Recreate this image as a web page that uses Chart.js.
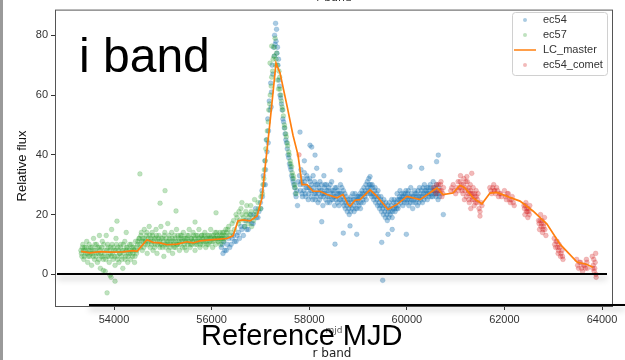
<!DOCTYPE html>
<html>
<head>
<meta charset="utf-8">
<script src="https://cdn.jsdelivr.net/npm/chart.js@4/dist/chart.umd.min.js"></script>
<style>
html, body { margin: 0; padding: 0; background: #fff; }
#graph { display: block; }
</style>
</head>
<body>
<canvas id="graph" width="625" height="360"></canvas>
<script>
// ticks
var mjdTicks = [54000, 56000, 58000, 60000, 62000, 64000];
var fluxTicks = [0, 20, 40, 60, 80];

// LC_master (ligne orange)
var lcMjd = [53324, 53508, 53713, 53918, 54184, 54389, 54471, 54676, 54799, 54943, 55086, 55291, 55496, 55619, 55762,
    56029, 56315, 56438, 56541, 56643, 56787, 56930, 57033, 57094, 57196, 57319, 57401, 57545, 57668, 57770, 57852,
    57955, 58078, 58221, 58365, 58570, 58692, 58795, 58836, 58938, 59041, 59246, 59389, 59614, 59799, 60004, 60270,
    60618, 60741, 60946, 61090, 61192, 61356, 61540, 61704, 61848, 62053, 62319, 62585, 62872, 63139, 63487, 63692, 63815];
var lcFlux = [7.7, 7.2, 7.6, 7.4, 7.5, 7.9, 7.7, 11.6, 10.7, 10.5, 9.9, 10.1, 10.9, 10.5, 11.2,
    11.6, 12.0, 12.9, 17.9, 18.2, 17.9, 19.5, 25.6, 35.5, 50.9, 70.7, 67.4, 56.4, 46.5, 39.9, 30.0,
    30.0, 27.8, 27.8, 26.7, 25.6, 26.7, 23.4, 22.8, 24.8, 25.0, 28.3, 26.1, 21.7, 23.4, 26.1, 25.0,
    28.9, 26.7, 27.2, 29.8, 28.9, 25.6, 23.6, 27.2, 27.4, 26.1, 24.5, 21.2, 16.8, 10.1, 4.1, 3.3, 2.4];

// ec57 (vert) [mjd, flux]
var ec57 = [
    [53320, 8], [53340, 6], [53360, 10], [53380, 5], [53400, 9], [53420, 7], [53440, 11], [53460, 4], [53480, 8], [53500, 6],
    [53520, 9], [53540, 3], [53560, 7], [53580, 12], [53600, 5], [53620, 8], [53640, 10], [53660, 4], [53680, 7], [53700, 9],
    [53720, 2], [53740, 6], [53760, 11], [53780, 5], [53800, 8], [53820, 1], [53840, 13], [53860, 6], [53880, 9], [53900, 4],
    [53920, 7], [53940, -1], [53960, 10], [53980, 5], [54000, 8], [54020, 3], [54040, 12], [54060, 6], [54080, 9], [54100, 4],
    [54120, 7], [54140, 10], [54160, 5], [54180, 2], [54200, 8], [54220, 11], [54240, 6], [54260, 9], [54280, 4], [54300, 7],
    [54320, 10], [54340, 5], [54360, 8], [54380, 6], [54400, 9], [54420, 4], [54440, 11], [54460, 7], [54480, 10],
    [53857, -6.2], [54020, -2.3], [53918, -0.3], [53780, 1.3], [54060, 17.8], [54530, 33.6], [55045, 28], [54943, 23.8],
    [55270, 21.2], [56090, 20.6], [55660, 17.5], [53700, 13], [53950, 15], [54250, 14],
    [54520, 12], [54540, 9], [54560, 14], [54580, 8], [54600, 11], [54620, 15], [54640, 10], [54660, 13], [54680, 7], [54700, 12],
    [54720, 16], [54740, 9], [54760, 11], [54780, 14], [54800, 8], [54820, 12], [54840, 10], [54860, 15], [54880, 7], [54900, 11],
    [54920, 13], [54940, 9], [54960, 16], [54980, 10], [55000, 12], [55020, 6], [55040, 14], [55060, 9], [55080, 11], [55100, 17],
    [55120, 8], [55140, 12], [55160, 10], [55180, 14], [55200, 7], [55220, 11], [55240, 13], [55260, 9], [55280, 15], [55300, 10],
    [55320, 12], [55340, 8], [55360, 13], [55380, 11], [55400, 9], [55420, 14], [55440, 10], [55460, 12], [55480, 8], [55500, 13],
    [55520, 11], [55540, 15], [55560, 9], [55580, 12], [55600, 10], [55620, 14], [55640, 11], [55660, 8], [55680, 13], [55700, 10],
    [55720, 12], [55740, 15], [55760, 9], [55780, 11], [55800, 13], [55820, 10], [55840, 12], [55860, 14], [55880, 9], [55900, 11],
    [55920, 13], [55940, 10], [55960, 12], [55980, 15], [56000, 11], [56020, 9], [56040, 13], [56060, 12], [56080, 10], [56100, 14],
    [56120, 12], [56140, 11], [56160, 13], [56180, 10], [56200, 12], [56220, 14], [56240, 11], [56260, 13],
    [56300, 13], [56350, 16], [56400, 14], [56450, 18], [56500, 20], [56550, 17], [56600, 22], [56650, 19], [56700, 21], [56750, 17],
    [56800, 23], [56850, 19], [56900, 21], [56950, 24], [57000, 22], [57050, 30], [57080, 35], [57110, 42], [57140, 48], [57170, 55],
    [57200, 60], [57230, 66], [57260, 72], [57290, 76], [57310, 70], [57330, 74], [57350, 65], [57380, 68], [57400, 62], [57430, 58],
    [57460, 55], [57490, 50], [57520, 47], [57550, 44], [57580, 41], [57610, 38], [57640, 36], [57670, 33], [57700, 30], [57730, 27],
    [57196, 70.7], [57230, 76.4], [56560, 21], [56620, 24], [56680, 16], [56720, 23], [56780, 20], [56820, 16], [56880, 25]
];
var ec57More = [
    [53330, 7], [53350, 9], [53370, 8], [53390, 6], [53410, 8], [53430, 9], [53450, 7], [53470, 6], [53490, 10], [53510, 8],
    [53530, 7], [53550, 9], [53570, 6], [53590, 8], [53610, 10], [53630, 6], [53650, 7], [53670, 9], [53690, 5], [53710, 8],
    [53730, 7], [53750, 9], [53770, 6], [53790, 10], [53810, 7], [53830, 5], [53850, 8], [53870, 10], [53890, 6], [53910, 8],
    [53930, 9], [53950, 6], [53970, 7], [53990, 9], [54010, 6], [54030, 8], [54050, 10], [54070, 5], [54090, 8], [54110, 7],
    [54130, 9], [54150, 6], [54170, 8], [54190, 10], [54210, 7], [54230, 5], [54250, 8], [54270, 9], [54290, 6], [54310, 8],
    [54330, 7], [54350, 10], [54370, 9], [54390, 7], [54410, 8], [54430, 6], [54450, 9], [54470, 8], [54490, 11], [54510, 12],
    [54530, 10], [54550, 13], [54570, 11], [54590, 12], [54610, 9], [54630, 12], [54650, 11], [54670, 14], [54690, 10], [54710, 11],
    [54730, 13], [54750, 12], [54770, 10], [54790, 13], [54810, 11], [54830, 9], [54850, 12], [54870, 13], [54890, 10], [54910, 12],
    [54930, 11], [54950, 10], [54970, 12], [54990, 9], [55010, 11], [55030, 13], [55050, 10], [55070, 12], [55090, 10], [55110, 11],
    [55130, 13], [55150, 9], [55170, 11], [55190, 12], [55210, 10], [55230, 9], [55250, 12], [55270, 11], [55290, 10], [55310, 13],
    [55330, 11], [55350, 10], [55370, 12], [55390, 13], [55410, 11], [55430, 12], [55450, 9], [55470, 11], [55490, 12], [55510, 10],
    [55530, 13], [55550, 11], [55570, 10], [55590, 12], [55610, 11], [55630, 13], [55650, 12], [55670, 10], [55690, 11], [55710, 13],
    [55730, 11], [55750, 12], [55770, 10], [55790, 13], [55810, 12], [55830, 11], [55850, 13], [55870, 11], [55890, 12], [55910, 10],
    [55930, 12], [55950, 13], [55970, 11], [55990, 12], [56010, 13], [56030, 11], [56050, 12], [56070, 14], [56090, 12], [56110, 13],
    [56130, 11], [56150, 12], [56170, 14], [56190, 12], [56210, 13], [56230, 12], [56250, 14], [56270, 12], [56290, 15], [56310, 14],
    [56330, 15], [56370, 13], [56420, 17], [56470, 15], [56520, 19], [56570, 18], [56620, 20], [56670, 18], [56710, 20], [56760, 19],
    [56810, 21], [56860, 18], [56910, 20], [56960, 22], [57010, 26], [57040, 27], [57070, 32], [57100, 38], [57130, 45], [57160, 51],
    [57190, 57], [57220, 63], [57250, 68], [57280, 73], [57300, 79], [57320, 72], [57345, 70], [57370, 62], [57395, 66], [57420, 60],
    [57445, 56], [57470, 53], [57500, 49], [57530, 46], [57560, 43], [57590, 40], [57620, 37], [57650, 34], [57680, 32], [57710, 29]
];

// ec54 (bleu)
var ec54 = [
    [56200, 9], [56233, 7], [56250, 11], [56300, 8], [56350, 12], [56400, 10], [56450, 13], [56500, 11], [56550, 14], [56600, 16],
    [56650, 13], [56700, 18], [56750, 15], [56800, 20], [56850, 17], [56900, 22], [56950, 19], [57000, 24], [57030, 28], [57060, 33],
    [57090, 38], [57120, 45], [57150, 52], [57180, 58], [57210, 64], [57240, 70], [57270, 76], [57290, 80], [57310, 84], [57320, 78],
    [57330, 82], [57340, 74], [57360, 70], [57380, 65], [57400, 60], [57430, 57], [57460, 52], [57490, 49], [57520, 45], [57550, 42],
    [57580, 39], [57610, 36], [57640, 33], [57670, 31], [57700, 29], [57730, 26], [57760, 23], [57100, 30], [57160, 44], [57220, 56],
    [57800, 33], [57820, 28], [57840, 31], [57860, 26], [57880, 30], [57900, 34], [57920, 27], [57940, 29], [57960, 32], [57980, 25],
    [58000, 29], [58020, 31], [58040, 26], [58060, 28], [58080, 33], [58100, 27], [58120, 25], [58140, 30], [58160, 28], [58180, 24],
    [58200, 29], [58220, 31], [58240, 26], [58260, 28], [58280, 23], [58300, 27], [58320, 30], [58340, 25], [58360, 28], [58380, 26],
    [58400, 29], [58420, 24], [58440, 27], [58460, 31], [58480, 25], [58500, 28], [58520, 23], [58540, 26], [58560, 29], [58580, 24],
    [58600, 27], [58620, 25], [58640, 30], [58660, 27], [58680, 24], [58700, 28], [58720, 25], [58740, 22], [58760, 26], [58780, 21],
    [58800, 24], [58820, 20], [58840, 23], [58860, 26], [58880, 22], [58900, 25], [58920, 21], [58940, 27], [58960, 24], [58980, 22],
    [59000, 26], [59020, 23], [59040, 27], [59060, 24], [59080, 28], [59100, 25], [59120, 29], [59140, 26], [59160, 30], [59180, 27],
    [59200, 29], [59220, 32], [59240, 27], [59260, 30], [59280, 26], [59300, 29], [59320, 25], [59340, 28], [59360, 24], [59380, 27],
    [59400, 23], [59420, 26], [59440, 22], [59460, 25], [59480, 21], [59500, 24], [59520, 20], [59540, 23], [59560, 19], [59580, 22],
    [59600, 18], [59620, 21], [59640, 24], [59660, 20], [59680, 23], [59700, 19], [59720, 22], [59740, 25], [59760, 21], [59780, 24],
    [59800, 27], [59820, 22], [59840, 25], [59860, 28], [59880, 24], [59900, 26], [59920, 23], [59940, 27], [59960, 25], [59980, 28],
    [60000, 24], [60020, 27], [60040, 23], [60060, 26], [60080, 29], [60100, 25], [60120, 22], [60140, 26], [60160, 28], [60180, 24],
    [60200, 27], [60220, 23], [60240, 26], [60260, 29], [60280, 25], [60300, 28], [60320, 24], [60340, 27], [60360, 30], [60380, 26],
    [60400, 28], [60420, 25], [60440, 29], [60460, 27], [60480, 30], [60500, 26], [60520, 28], [60540, 31], [60560, 27], [60580, 29],
    [60600, 26], [60620, 28], [60640, 25], [60660, 27],
    [58256, 17.6], [58698, 13.8], [58836, 16.2], [58973, 13.4], [58528, 10.1], [59485, 10.7], [59614, 13.4], [59990, 13.4],
    [59505, -2], [60748, 20], [57811, 47.6], [58051, 42.6], [58119, 39.9], [58631, 34.9], [59246, 32.7], [60065, 36],
    [60305, 35.5], [60645, 39.9], [60610, 37.7], [58016, 43.2], [58153, 35.5], [57900, 38], [58300, 33], [59700, 15]
];
var ec54More = [
    [56220, 10], [56270, 8], [56320, 10], [56370, 9], [56420, 12], [56470, 11], [56520, 13], [56570, 12], [56620, 15], [56670, 16],
    [56720, 15], [56770, 18], [56820, 17], [56870, 20], [56920, 19], [56970, 21], [57010, 22], [57040, 26], [57070, 30], [57105, 35],
    [57135, 41], [57165, 48], [57195, 55], [57225, 61], [57255, 67], [57285, 73], [57300, 77], [57350, 76], [57370, 72], [57390, 63],
    [57415, 59], [57445, 55], [57475, 51], [57505, 47], [57535, 44], [57565, 40], [57595, 37], [57625, 35], [57655, 32], [57685, 30],
    [57715, 27], [57745, 28], [57775, 31],
    [57810, 30], [57830, 35], [57850, 27], [57870, 32], [57890, 28], [57910, 31], [57930, 26], [57950, 33], [57970, 29], [57990, 27],
    [58010, 32], [58030, 28], [58050, 30], [58070, 25], [58090, 29], [58110, 31], [58130, 27], [58150, 26], [58170, 30], [58190, 27],
    [58210, 25], [58230, 28], [58250, 30], [58270, 27], [58290, 26], [58310, 29], [58330, 27], [58350, 30], [58370, 24], [58390, 28],
    [58410, 26], [58430, 30], [58450, 25], [58470, 28], [58490, 27], [58510, 26], [58530, 29], [58550, 25], [58570, 27], [58590, 28],
    [58610, 23], [58630, 27], [58650, 25], [58670, 29], [58690, 26], [58710, 23], [58730, 27], [58750, 24], [58770, 23], [58790, 25],
    [58810, 22], [58830, 25], [58850, 21], [58870, 24], [58890, 27], [58910, 23], [58930, 25], [58950, 22], [58970, 26], [58990, 25],
    [59010, 24], [59030, 26], [59050, 22], [59070, 26], [59090, 27], [59110, 24], [59130, 27], [59150, 28], [59170, 25], [59190, 31],
    [59210, 28], [59230, 30], [59250, 29], [59270, 27], [59290, 30], [59310, 27], [59330, 26], [59350, 29], [59370, 26], [59390, 25],
    [59410, 28], [59430, 24], [59450, 23], [59470, 26], [59490, 23], [59510, 22], [59530, 25], [59550, 21], [59570, 24], [59590, 20],
    [59610, 23], [59630, 19], [59650, 22], [59670, 21], [59690, 25], [59710, 21], [59730, 24], [59750, 22], [59770, 23], [59790, 22],
    [59810, 25], [59830, 23], [59850, 26], [59870, 25], [59890, 27], [59910, 25], [59930, 26], [59950, 24], [59970, 27], [59990, 26],
    [60010, 25], [60030, 28], [60050, 25], [60070, 24], [60090, 27], [60110, 26], [60130, 24], [60150, 25], [60170, 27], [60190, 26],
    [60210, 25], [60230, 28], [60250, 24], [60270, 26], [60290, 27], [60310, 26], [60330, 29], [60350, 25], [60370, 28], [60390, 27],
    [60410, 29], [60430, 27], [60450, 26], [60470, 28], [60490, 29], [60510, 27], [60530, 26], [60550, 29], [60570, 28], [60590, 27],
    [60610, 30], [60630, 27], [60650, 29], [60670, 26]
];

// ec54_comet (rouge)
var comet = [
    [60550, 29], [60600, 27], [60650, 30], [60680, 28], [60700, 31], [60720, 26], [60750, 29], [60900, 28], [60950, 30], [61000, 27],
    [61050, 31], [61080, 29], [61100, 33], [61120, 30], [61150, 27], [61170, 32], [61200, 29], [61220, 26], [61240, 31], [61260, 28],
    [61280, 24], [61300, 30], [61320, 27], [61340, 25], [61360, 29], [61380, 23], [61400, 26], [61420, 28], [61440, 24], [61460, 27],
    [61500, 21], [61540, 23], [61700, 29], [61740, 27], [61780, 30], [61800, 28], [61840, 29], [61880, 26], [61920, 27], [62000, 28],
    [62040, 25], [62080, 27], [62120, 24], [62160, 26], [62200, 23], [62400, 23], [62420, 20], [62440, 24], [62460, 22], [62480, 19],
    [62500, 21], [62520, 23], [62700, 18], [62720, 15], [62740, 20], [62760, 17], [62780, 14], [62800, 16], [62820, 19], [62850, 13],
    [63020, 12], [63050, 9], [63080, 11], [63100, 7], [63120, 10], [63150, 6], [63180, 8], [63200, 5], [63480, 5], [63520, 2],
    [63560, 4], [63600, 1], [63640, 3], [63680, 5], [63700, 2], [63800, 6], [63820, 3], [63840, 1], [63860, 4], [63880, -1],
    [63870, 7], [61499, 19.5], [61330, 33.8], [61230, 32.7], [61270, 25], [61310, 22], [61180, 25], [57790, 40]
];
var cometMore = [
    [60560, 28], [60610, 30], [60660, 28], [60690, 30], [60710, 28], [60740, 27], [60920, 29], [60970, 28], [61020, 29], [61060, 28],
    [61090, 31], [61110, 29], [61130, 28], [61160, 30], [61190, 28], [61210, 31], [61250, 27], [61270, 29], [61290, 27], [61310, 28],
    [61330, 26], [61350, 27], [61370, 25], [61390, 27], [61410, 24], [61430, 26], [61450, 25], [61480, 22], [61520, 24], [61720, 28],
    [61760, 29], [61790, 28], [61820, 27], [61860, 28], [61900, 27], [61940, 26], [62020, 26], [62060, 27], [62100, 25], [62140, 25],
    [62180, 24], [62410, 22], [62430, 23], [62450, 21], [62470, 21], [62490, 22], [62510, 20], [62710, 17], [62730, 18], [62750, 16],
    [62770, 18], [62790, 15], [62810, 17], [62830, 15], [63030, 10], [63060, 11], [63090, 9], [63110, 8], [63130, 9], [63160, 7],
    [63190, 6], [63500, 3], [63540, 4], [63580, 2], [63620, 3], [63660, 2], [63690, 4], [63810, 2], [63830, 5], [63850, 2], [63875, 0]
];

var toXY = function(arr) { return arr.map(function(p) { return { x: p[0], y: p[1] }; }); };

var dots = function(label, data, rgb, alpha, order) {
    return {
        label: label,
        data: toXY(data),
        backgroundColor: 'rgba(' + rgb + ',' + alpha + ')',
        borderColor: 'rgba(' + rgb + ',' + alpha + ')',
        borderWidth: 0.5,
        pointRadius: 2.4,
        order: order
    };
};

// legende, textes et lignes noires par dessus
var extras = {
    id: 'extras',
    beforeDraw: function(chart) {
        var ctx = chart.ctx;
        ctx.save();
        ctx.fillStyle = '#fff';
        ctx.fillRect(0, 0, chart.width, chart.height);
        ctx.restore();
    },
    afterDraw: function(chart) {
        var ctx = chart.ctx, a = chart.chartArea, ys = chart.scales.y;
        ctx.save();

        // cadre
        ctx.strokeStyle = '#555';
        ctx.lineWidth = 1;
        ctx.strokeRect(a.left + 0.5, a.top + 0.5, a.right - a.left - 1, a.bottom - a.top);

        // barre grise a gauche
        ctx.fillStyle = '#9a9a9a';
        ctx.fillRect(0, 0, 3, chart.height);

        // lignes noires avec ombre
        ctx.shadowColor = 'rgba(0,0,0,0.3)';
        ctx.shadowBlur = 6;
        ctx.shadowOffsetY = 4;
        ctx.strokeStyle = '#000';
        ctx.lineWidth = 2;
        var y0 = Math.round(ys.getPixelForValue(0));
        ctx.beginPath(); ctx.moveTo(a.left + 2, y0); ctx.lineTo(607, y0); ctx.stroke();
        ctx.beginPath(); ctx.moveTo(89, a.bottom - 1); ctx.lineTo(chart.width, a.bottom - 1); ctx.stroke();
        ctx.shadowColor = 'transparent';
        ctx.shadowBlur = 0;
        ctx.shadowOffsetY = 0;

        // legende
        var lx = 512, ly = 12, lw = 95, lh = 63;
        ctx.fillStyle = 'rgba(255,255,255,0.85)';
        ctx.strokeStyle = '#d0d0d0';
        ctx.lineWidth = 1;
        ctx.beginPath();
        ctx.roundRect(lx + 0.5, ly + 0.5, lw, lh, 3);
        ctx.fill(); ctx.stroke();
        ctx.font = '11px "Liberation Sans", Arial, sans-serif';
        ctx.textBaseline = 'middle';
        chart.data.datasets.forEach(function(ds, i) {
            var ry = ly + 8 + i * 15;
            if (ds.showLine) {
                ctx.strokeStyle = ds.borderColor;
                ctx.lineWidth = 1.5;
                ctx.beginPath(); ctx.moveTo(lx + 2, ry); ctx.lineTo(lx + 24, ry); ctx.stroke();
            } else {
                ctx.fillStyle = ds.backgroundColor;
                ctx.beginPath(); ctx.arc(lx + 13, ry, 2, 0, Math.PI * 2); ctx.fill();
            }
            ctx.fillStyle = '#333';
            ctx.textAlign = 'left';
            ctx.fillText(ds.label, lx + 31, ry);
        });

        // titre y
        ctx.save();
        ctx.translate(22, 166);
        ctx.rotate(-Math.PI / 2);
        ctx.fillStyle = '#111';
        ctx.font = '13px "Liberation Sans", Arial, sans-serif';
        ctx.textAlign = 'center';
        ctx.textBaseline = 'middle';
        ctx.fillText('Relative flux', 0, 0);
        ctx.restore();

        // titre coupe en haut
        ctx.fillStyle = '#333';
        ctx.font = '11px "DejaVu Sans", sans-serif';
        ctx.textAlign = 'center';
        ctx.textBaseline = 'alphabetic';
        ctx.fillText('r band', 334, 1);

        // petits textes en bas
        ctx.fillStyle = '#555';
        ctx.font = '9px "DejaVu Sans", sans-serif';
        ctx.fillText('mjd', 334, 333);
        ctx.fillStyle = '#222';
        ctx.font = '12px "DejaVu Sans", sans-serif';
        ctx.fillText('r band', 332, 357);

        // grands textes
        ctx.fillStyle = '#000';
        ctx.textAlign = 'left';
        ctx.font = '48px "Liberation Sans", Arial, sans-serif';
        ctx.fillText('i band', 79, 72);
        ctx.font = '29px "Liberation Sans", Arial, sans-serif';
        ctx.fillText('Reference MJD', 201, 345);

        ctx.restore();
    }
};

var config = {
    type: 'scatter',
    data: {
        datasets: [
            dots('ec54', ec54.concat(ec54More), '31,119,180', 0.38, 3),
            dots('ec57', ec57.concat(ec57More), '44,160,44', 0.3, 2),
            {
                label: 'LC_master',
                data: lcMjd.map(function(m, i) { return { x: m, y: lcFlux[i] }; }),
                showLine: true,
                borderColor: '#ff7f0e',
                backgroundColor: '#ff7f0e',
                borderWidth: 1.7,
                pointRadius: 0,
                tension: 0,
                fill: false,
                order: 0
            },
            dots('ec54_comet', comet.concat(cometMore), '214,39,40', 0.32, 1)
        ]
    },
    options: {
        responsive: false,
        animation: false,
        layout: { padding: { left: 0, top: 6, right: 12, bottom: 0 } },
        plugins: { legend: { display: false }, tooltip: { enabled: false } },
        scales: {
            x: {
                type: 'linear',
                min: 52790,
                max: 64225,
                afterBuildTicks: function(s) { s.ticks = mjdTicks.map(function(v) { return { value: v }; }); },
                afterFit: function(s) { s.height = 54; },
                ticks: {
                    color: '#333',
                    font: { family: '"Liberation Sans", Arial, sans-serif', size: 11 },
                    maxRotation: 0,
                    padding: 3,
                    callback: function(v) { return String(v); }
                },
                grid: { drawOnChartArea: false, drawTicks: true, tickLength: 4, color: '#333' },
                border: { display: false }
            },
            y: {
                min: -10.6,
                max: 88.6,
                afterBuildTicks: function(s) { s.ticks = fluxTicks.map(function(v) { return { value: v }; }); },
                afterFit: function(s) { s.width = 55; },
                ticks: {
                    color: '#333',
                    font: { family: '"Liberation Sans", Arial, sans-serif', size: 11 },
                    padding: 3,
                    callback: function(v) { return String(v); }
                },
                grid: { drawOnChartArea: false, drawTicks: true, tickLength: 4, color: '#333' },
                border: { display: false }
            }
        }
    },
    plugins: [extras]
};

window.onload = function() {
    var ctx = document.getElementById('graph').getContext('2d');
    window.myChart = new Chart(ctx, config);
};
</script>
</body>
</html>
